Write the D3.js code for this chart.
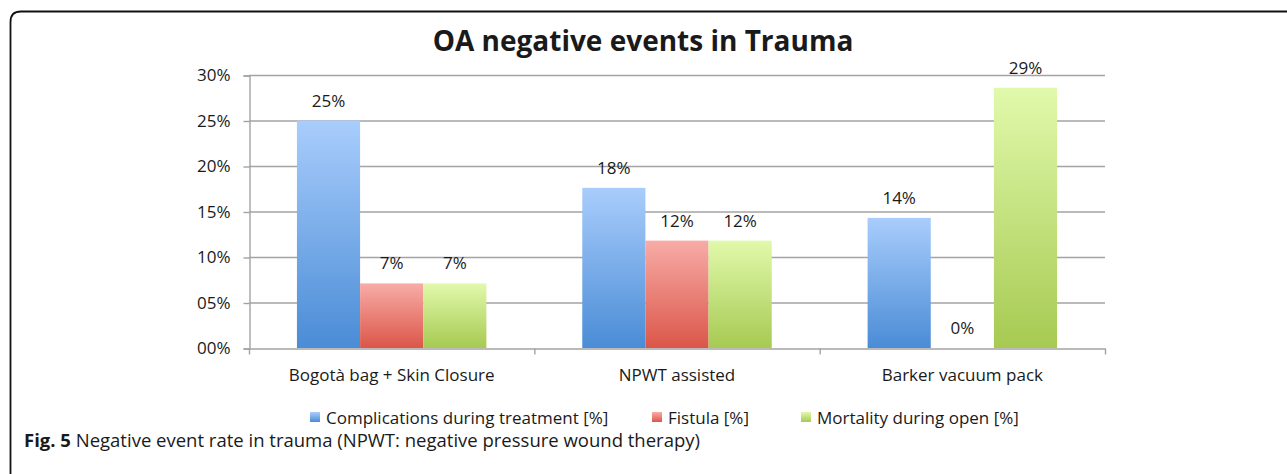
<!DOCTYPE html>
<html lang="en">
  <head>
    <meta charset="UTF-8">
    <script src="https://d3js.org/d3.v7.min.js"></script>
    <style>
      html, body { margin: 0; padding: 0; background: #fff; }
      #chart { display: block; }
      text { font-family: "Open Sans", "Noto Sans", sans-serif; fill: #1a1a1a; }
    </style>
  </head>
  <body>
    <svg id="chart" width="1287" height="474"></svg>
    <script>
      // data
      let categories = ['Bogotà bag + Skin Closure', 'NPWT assisted', 'Barker vacuum pack'];
      let seriesNames = ['Complications during treatment [%]', 'Fistula [%]', 'Mortality during open [%]'];
      let complications = [25.0, 17.6, 14.3];
      let fistula = [7.1, 11.8, 0.0];
      let mortality = [7.1, 11.8, 28.6];
      let valueLabels = [['25%', '18%', '14%'], ['7%', '12%', '0%'], ['7%', '12%', '29%']];
      let yTicks = [0, 5, 10, 15, 20, 25, 30];
      let yTickLabels = ['00%', '05%', '10%', '15%', '20%', '25%', '30%'];

      let series = [complications, fistula, mortality];
      let colors = [
        { top: '#a9cdfc', bottom: '#4a8cd6' },
        { top: '#f8aca7', bottom: '#db5649' },
        { top: '#e1f9ab', bottom: '#a6ca52' }
      ];

      let svg = d3.select('#chart');

      // gradients for bars
      let defs = svg.append('defs');
      colors.forEach((c, i) => {
        let g = defs.append('linearGradient')
          .attr('id', 'grad' + i)
          .attr('x1', 0).attr('y1', 0).attr('x2', 0).attr('y2', 1);
        g.append('stop').attr('offset', '0%').attr('stop-color', c.top);
        g.append('stop').attr('offset', '100%').attr('stop-color', c.bottom);
      });

      // frame
      svg.append('path')
        .attr('d', 'M10.5,474 L10.5,22 Q10.5,11.5 21,11.5 L1287,11.5')
        .attr('fill', 'none')
        .attr('stroke', '#111')
        .attr('stroke-width', 1.8);

      let plotLeft = 249, plotRight = 1105, plotTop = 75, plotBottom = 348;

      let y = d3.scaleLinear().domain([0, 30]).range([plotBottom, plotTop]);
      let x0 = d3.scaleBand().domain(categories).range([plotLeft, plotRight]);
      let inset = x0.bandwidth() * 0.168;
      let x1 = d3.scaleBand().domain(d3.range(series.length)).range([inset, x0.bandwidth() - inset]);

      // title
      svg.append('text')
        .attr('x', 643).attr('y', 51)
        .attr('text-anchor', 'middle')
        .style('font-size', '28px')
        .style('font-weight', 'bold')
        .text('OA negative events in Trauma');

      // gridlines
      svg.append('g')
        .selectAll('line')
        .data(yTicks.slice(1))
        .enter()
        .append('line')
        .attr('x1', plotLeft).attr('x2', plotRight)
        .attr('y1', d => y(d) + 0.5).attr('y2', d => y(d) + 0.5)
        .attr('stroke', '#a3a3a3')
        .attr('stroke-width', 1.4);

      // y axis
      let yAxis = svg.append('g')
        .attr('transform', `translate(${plotLeft + 0.5},0.5)`)
        .call(d3.axisLeft(y).tickValues(yTicks).tickSize(6).tickPadding(13)
          .tickFormat((d, i) => yTickLabels[i]));
      yAxis.select('.domain').attr('stroke', '#a3a3a3').attr('stroke-width', 1.4);
      yAxis.selectAll('.tick line').attr('stroke', '#a3a3a3').attr('stroke-width', 1.4);
      yAxis.selectAll('.tick text').style('font-size', '17px').attr('fill', '#1a1a1a');

      // bars
      let groups = svg.append('g')
        .selectAll('g')
        .data(categories)
        .enter()
        .append('g')
        .attr('transform', d => `translate(${x0(d)},0)`);

      groups.selectAll('rect')
        .data((d, ci) => series.map((s, si) => ({ si: si, v: s[ci] })))
        .enter()
        .append('rect')
        .attr('x', d => x1(d.si))
        .attr('width', x1.bandwidth())
        .attr('y', d => y(d.v))
        .attr('height', d => y(0) - y(d.v))
        .attr('fill', d => `url(#grad${d.si})`);

      groups.selectAll('text')
        .data((d, ci) => series.map((s, si) => ({ si: si, v: s[ci], label: valueLabels[si][ci] })))
        .enter()
        .append('text')
        .attr('x', d => x1(d.si) + x1.bandwidth() / 2)
        .attr('y', d => y(d.v) - 14)
        .attr('text-anchor', 'middle')
        .style('font-size', '17px')
        .text(d => d.label);

      // x axis
      let xAxis = svg.append('g')
        .attr('transform', `translate(0,${plotBottom + 0.5})`)
        .call(d3.axisBottom(x0).tickSize(0).tickPadding(20));
      xAxis.select('.domain').attr('stroke', '#a3a3a3').attr('stroke-width', 1.4);
      xAxis.selectAll('.tick text').style('font-size', '17px').attr('fill', '#1a1a1a');
      // category separators, including the left end of the axis
      let separators = [x0.range()[0]].concat(categories.map(d => x0(d) + x0.bandwidth()));
      xAxis.selectAll('.sep')
        .data(separators)
        .enter()
        .append('line')
        .attr('x1', d => d + 0.5)
        .attr('x2', d => d + 0.5)
        .attr('y1', 0).attr('y2', 6)
        .attr('stroke', '#a3a3a3')
        .attr('stroke-width', 1.4);

      // legend
      let legendX = [310, 652, 801];
      let legend = svg.append('g')
        .selectAll('g')
        .data(seriesNames)
        .enter()
        .append('g')
        .attr('transform', (d, i) => `translate(${legendX[i]},412)`);
      legend.append('rect')
        .attr('width', 10).attr('height', 10)
        .attr('fill', (d, i) => `url(#grad${i})`);
      legend.append('text')
        .attr('x', 16).attr('y', 12)
        .style('font-size', '17px')
        .text(d => d);

      // caption
      let caption = svg.append('text')
        .attr('x', 24).attr('y', 447)
        .style('font-size', '18.5px');
      caption.append('tspan').style('font-weight', 'bold').text('Fig. 5');
      caption.append('tspan').text(' Negative event rate in trauma (NPWT: negative pressure wound therapy)');
    </script>
  </body>
</html>
